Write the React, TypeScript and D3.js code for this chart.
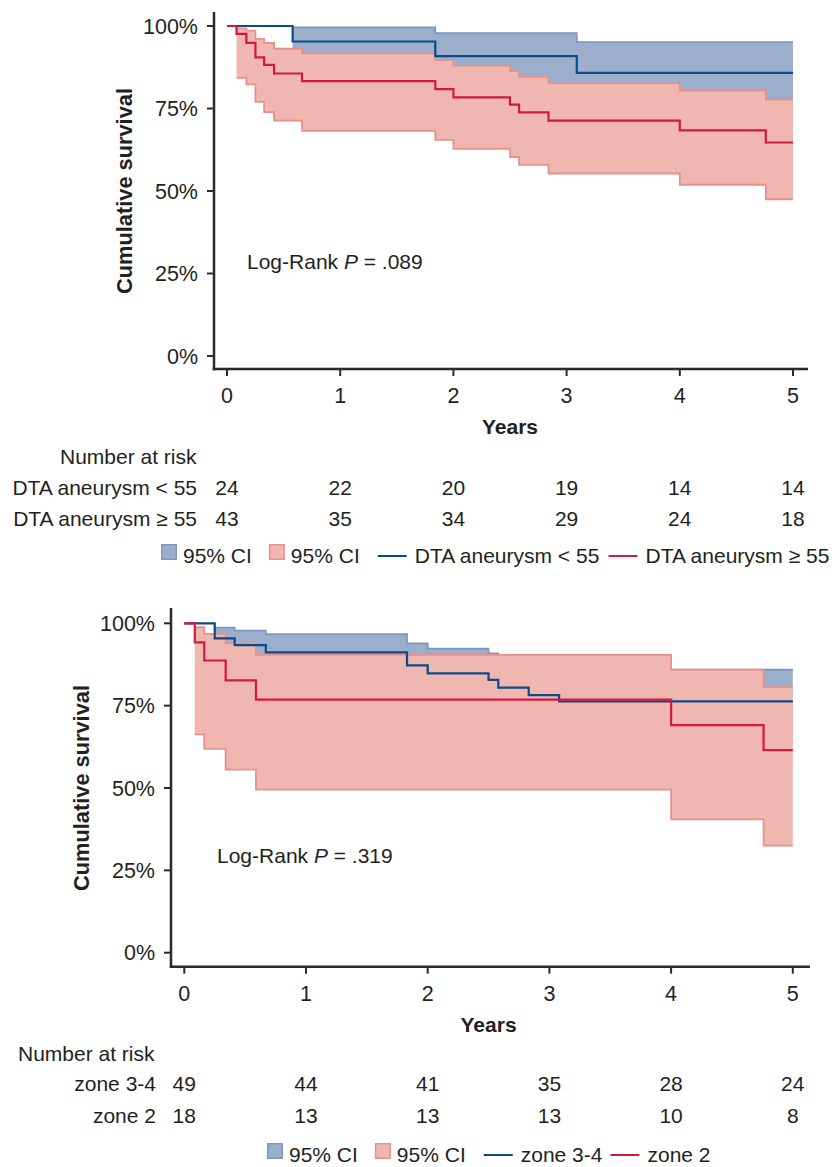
import * as React from "react";
import * as d3 from "d3";

const FONT = '"Liberation Sans", Arial, Helvetica, sans-serif';
const FS = 21;

const xTicks = [0, 1, 2, 3, 4, 5];
const yTicks = [0, 25, 50, 75, 100];
const riskTimes = [0, 1, 2, 3, 4, 5];

// panel A: DTA aneurysm size
const aLowTime = [0, 0.58, 1.84, 3.09];
const aLowSurv = [100, 95.3, 90.9, 85.8];
const aLowUpper = [99.6, 97.8, 95.1];
const aLowLower = [74, 69, 63];

const aHighTime = [0, 0.084, 0.171, 0.251, 0.328, 0.416, 0.663, 1.84, 2.0, 2.5, 2.58, 2.84, 4.0, 4.76];
const aHighSurv = [100, 97.6, 94.9, 90.5, 88.2, 85.6, 83.3, 80.9, 78.4, 76.2, 73.8, 71.3, 68.4, 64.7];
const aHighUpper = [99.3, 98.6, 96.1, 94.9, 93.1, 91.7, 89.7, 88.0, 86.3, 84.6, 82.6, 80.4, 77.7];
const aHighLower = [84.3, 82.3, 77.0, 73.9, 71.3, 68.2, 65.5, 62.8, 60.3, 57.9, 55.3, 51.9, 47.5];

const aRiskLow = [24, 22, 20, 19, 14, 14];
const aRiskHigh = [43, 35, 34, 29, 24, 18];

// panel B: landing zone
const bZ34Time = [0, 0.25, 0.414, 0.67, 1.83, 2.0, 2.5, 2.58, 2.83, 3.08];
const bZ34Surv = [100, 95.4, 93.4, 91.2, 87.2, 84.8, 82.8, 80.5, 78.2, 76.3];
const bZ34Upper = [98.7, 97.8, 96.7, 93.9, 92.3, 90.9, 89.5, 87.7, 85.9];
const bZ34Lower = [84.5, 82.5, 80.5, 76, 73.5, 71, 68.5, 66, 64];

const bZ2Time = [0, 0.086, 0.164, 0.34, 0.589, 4.0, 4.76];
const bZ2Surv = [100, 94.2, 88.7, 82.7, 76.8, 69.1, 61.5];
const bZ2Upper = [98.8, 96.8, 93.9, 90.4, 85.9, 80.6];
const bZ2Lower = [66.3, 61.9, 55.6, 49.5, 40.5, 32.5];

const bRisk34 = [49, 44, 41, 35, 28, 24];
const bRisk2 = [18, 13, 13, 13, 10, 8];

const BLUE = { fill: "#9bafcd", edge: "#7d97c2", line: "#0d4a86" };
const RED = { fill: "#f0b6b0", edge: "#e8918b", line: "#d4193f" };
const AXIS = "#2a2a2a";

let ctx: CanvasRenderingContext2D | null = null;
function textWidth(s: string, size = FS) {
  if (!ctx) ctx = document.createElement("canvas").getContext("2d");
  if (!ctx) return s.length * size * 0.55;
  ctx.font = `${size}px ${FONT}`;
  return ctx.measureText(s).width;
}

function Band({ x, y, time, upper, lower, c }) {
  const pts = time.slice(1).map((t, i) => [t, lower[i], upper[i]]);
  pts.push([5, lower[lower.length - 1], upper[upper.length - 1]]);
  const area = d3.area<number[]>().x(d => x(d[0])).y0(d => y(d[1])).y1(d => y(d[2])).curve(d3.curveStepAfter);
  const lo = d3.line<number[]>().x(d => x(d[0])).y(d => y(d[1])).curve(d3.curveStepAfter);
  const hi = d3.line<number[]>().x(d => x(d[0])).y(d => y(d[2])).curve(d3.curveStepAfter);
  return (
    <g>
      <path d={area(pts) || ""} fill={c.fill} />
      <path d={hi(pts) || ""} fill="none" stroke={c.edge} strokeWidth={1.8} />
      <path d={lo(pts) || ""} fill="none" stroke={c.edge} strokeWidth={1.8} />
    </g>
  );
}

function Curve({ x, y, time, surv, c }) {
  const pts = time.map((t, i) => [t, surv[i]]);
  pts.push([5, surv[surv.length - 1]]);
  const line = d3.line<number[]>().x(d => x(d[0])).y(d => y(d[1])).curve(d3.curveStepAfter);
  return <path d={line(pts) || ""} fill="none" stroke={c.line} strokeWidth={2.2} />;
}

function Legend({ x0, base, labels }) {
  const items = [];
  let cx = x0;
  [BLUE, RED].forEach((c, i) => {
    items.push(<rect key={"r" + i} x={cx + 0.75} y={base - 18.25} width={14.5} height={14.5} fill={c.fill} stroke={c.edge} strokeWidth={1.5} />);
    cx += 22;
    items.push(<text key={"t" + i} x={cx} y={base}>95% CI</text>);
    cx += textWidth("95% CI") + (i === 0 ? 17 : 18);
  });
  [BLUE, RED].forEach((c, i) => {
    items.push(<line key={"l" + i} x1={cx} x2={cx + 29} y1={base - 7} y2={base - 7} stroke={c.line} strokeWidth={2} />);
    cx += 37;
    items.push(<text key={"lt" + i} x={cx} y={base}>{labels[i]}</text>);
    cx += textWidth(labels[i]) + 8;
  });
  return <g>{items}</g>;
}

function Panel({ L, blue, red, labels, pval, risk }) {
  const x = d3.scaleLinear().domain([0, 5]).range([L.x0, L.x5]);
  const y = d3.scaleLinear().domain([0, 100]).range([L.y0, L.y100]);
  return (
    <g fontFamily={FONT} fontSize={FS} fill="#231f20">
      <Band x={x} y={y} time={blue.time} upper={blue.upper} lower={blue.lower} c={BLUE} />
      <Band x={x} y={y} time={red.time} upper={red.upper} lower={red.lower} c={RED} />
      <Curve x={x} y={y} time={blue.time} surv={blue.surv} c={BLUE} />
      <Curve x={x} y={y} time={red.time} surv={red.surv} c={RED} />

      <line x1={L.axisX} x2={L.axisX} y1={L.axisTop} y2={L.axisY + 1.25} stroke={AXIS} strokeWidth={2.5} />
      <line x1={L.axisX - 1.25} x2={L.axisRight} y1={L.axisY} y2={L.axisY} stroke={AXIS} strokeWidth={2.5} />
      {yTicks.map(t => (
        <g key={"y" + t}>
          <line x1={L.axisX - 7} x2={L.axisX} y1={y(t)} y2={y(t)} stroke={AXIS} strokeWidth={2} />
          <text x={L.yTickRight} y={y(t)} dy="0.36em" textAnchor="end" fontSize={21.5}>{t + "%"}</text>
        </g>
      ))}
      {xTicks.map(t => (
        <g key={"x" + t}>
          <line x1={x(t)} x2={x(t)} y1={L.axisY} y2={L.axisY + 7} stroke={AXIS} strokeWidth={2} />
          <text x={x(t)} y={L.axisY + 34} textAnchor="middle" fontSize={21.5}>{t}</text>
        </g>
      ))}
      <text x={x(2.5)} y={L.axisY + 65} textAnchor="middle" fontWeight="bold">Years</text>
      <text transform={`translate(${L.ylabelX},${y(50)}) rotate(-90)`} textAnchor="middle" fontWeight="bold" fontSize={21.8}>Cumulative survival</text>
      <text x={L.logX} y={L.logY}>
        Log-Rank <tspan fontStyle="italic">P</tspan> = {pval}
      </text>

      <text x={L.riskHeadX} y={L.riskHeadY}>Number at risk</text>
      {risk.map((row, ri) => (
        <g key={"risk" + ri}>
          <text x={L.riskLabelRight} y={L.riskRows[ri]} textAnchor="end">{labels[ri]}</text>
          {row.map((n, i) => (
            <text key={i} x={x(riskTimes[i])} y={L.riskRows[ri]} textAnchor="middle">{n}</text>
          ))}
        </g>
      ))}
      <Legend x0={L.legendX} base={L.legendBase} labels={labels} />
    </g>
  );
}

const layoutA = {
  axisX: 214, axisTop: 12, x0: 227, x5: 793, y100: 26, y0: 356, axisY: 369, axisRight: 808,
  yTickRight: 198, ylabelX: 132, logX: 247, logY: 269,
  riskHeadX: 60, riskHeadY: 464, riskRows: [495, 526], riskLabelRight: 197,
  legendX: 161, legendBase: 563,
};

const layoutB = {
  axisX: 171, axisTop: 608, x0: 184.3, x5: 792.8, y100: 623.3, y0: 952.7, axisY: 966.7, axisRight: 810,
  yTickRight: 155, ylabelX: 89, logX: 217, logY: 863,
  riskHeadX: 18, riskHeadY: 1061, riskRows: [1091, 1123], riskLabelRight: 156,
  legendX: 267, legendBase: 1162,
};

export default function App() {
  return (
    <div style={{ position: "absolute", left: 0, top: 0 }}>
      <svg width={840} height={1167} style={{ display: "block", background: "#fff" }}>
        <Panel
          L={layoutA}
          blue={{ time: aLowTime, surv: aLowSurv, upper: aLowUpper, lower: aLowLower }}
          red={{ time: aHighTime, surv: aHighSurv, upper: aHighUpper, lower: aHighLower }}
          labels={["DTA aneurysm < 55", "DTA aneurysm ≥ 55"]}
          pval=".089"
          risk={[aRiskLow, aRiskHigh]}
        />
        <Panel
          L={layoutB}
          blue={{ time: bZ34Time, surv: bZ34Surv, upper: bZ34Upper, lower: bZ34Lower }}
          red={{ time: bZ2Time, surv: bZ2Surv, upper: bZ2Upper, lower: bZ2Lower }}
          labels={["zone 3-4", "zone 2"]}
          pval=".319"
          risk={[bRisk34, bRisk2]}
        />
      </svg>
    </div>
  );
}
